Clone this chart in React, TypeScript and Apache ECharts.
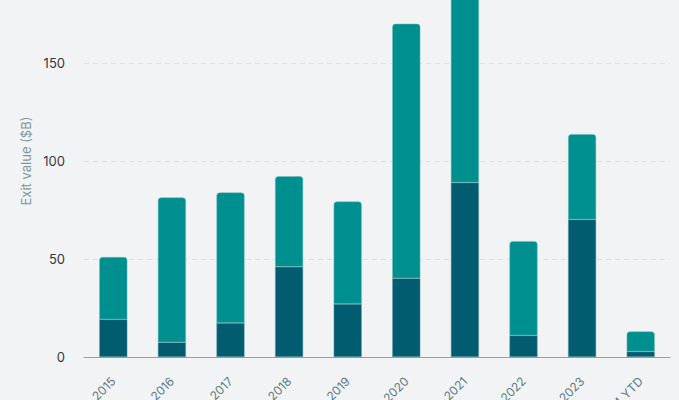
import React, { useEffect, useRef } from "react";
import * as echarts from "echarts";

const categories = ["2015", "2016", "2017", "2018", "2019", "2020", "2021", "2022", "2023", "2024 YTD"];
const lowerValues = [19.2, 7.5, 17.4, 46, 27.1, 40.2, 89, 11, 70.2, 2.8];
const upperValues = [31.8, 73.9, 66.5, 46.2, 52.2, 129.8, 101, 48.1, 43.5, 10.2];
const yTicks = [0, 50, 100, 150, 200];

export default function App() {
  const ref = useRef<HTMLDivElement>(null);
  useEffect(() => {
    if (!ref.current) return;
    const chart = echarts.init(ref.current, undefined, { renderer: "svg" });
    const font = "Inter, 'Noto Sans', sans-serif";
    chart.setOption({
      animation: false,
      backgroundColor: "#f2f3f5",
      textStyle: { fontFamily: font },
      grid: {
        left: 84,
        right: 9,
        top: -35,
        bottom: 43,
        containLabel: false,
        outerBoundsMode: "none",
      },
      xAxis: {
        type: "category",
        data: categories,
        axisLine: { lineStyle: { color: "#8fa2a8", width: 1 } },
        axisTick: { show: false },
        axisLabel: {
          rotate: 45,
          margin: 22,
          color: "#5b7a80",
          fontSize: 12,
          fontFamily: font,
          interval: 0,
        },
      },
      yAxis: {
        type: "value",
        min: yTicks[0],
        max: yTicks[yTicks.length - 1],
        interval: 50,
        name: "Exit value ($B)",
        nameLocation: "middle",
        nameGap: 46,
        nameTextStyle: { color: "#7c989e", fontSize: 13, fontFamily: font },
        axisLine: { show: false },
        axisTick: { show: false },
        axisLabel: {
          color: "#333840",
          fontSize: 13,
          margin: 19,
          fontFamily: font,
          showMaxLabel: false,
        },
        splitLine: { lineStyle: { color: "#dde1e4", type: [5, 4], width: 1 } },
      },
      series: [
        {
          name: "Lower",
          type: "bar",
          stack: "total",
          barWidth: 28,
          data: lowerValues,
          itemStyle: { color: "#025c6f", borderColor: "#5f9aa6", borderWidth: 0.5 },
        },
        {
          name: "Upper",
          type: "bar",
          stack: "total",
          barWidth: 28,
          data: upperValues,
          itemStyle: {
            color: "#008f8f",
            borderColor: "#6fb8b8",
            borderWidth: 0.5,
            borderRadius: [3, 3, 0, 0],
          },
        },
      ],
    });
    return () => chart.dispose();
  }, []);
  return (
    <div
      ref={ref}
      style={{ position: "fixed", left: 0, top: 0, width: 679, height: 400 }}
    />
  );
}
